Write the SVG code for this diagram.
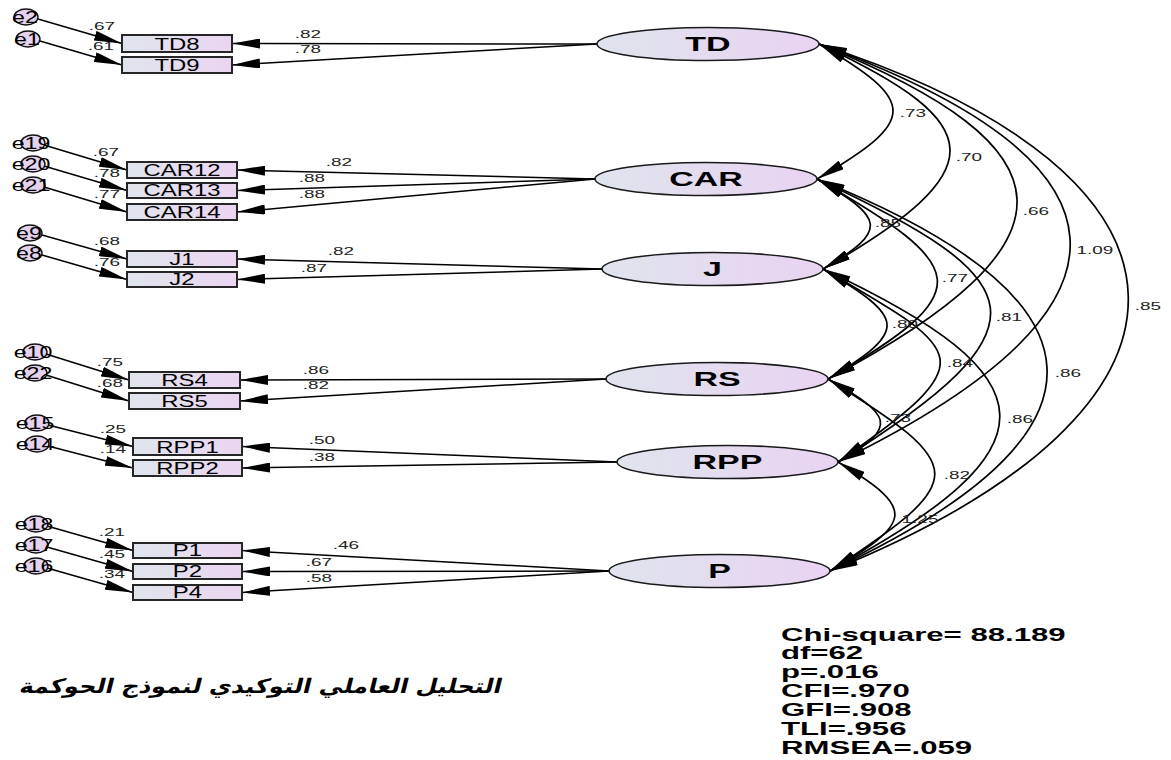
<svg xmlns="http://www.w3.org/2000/svg" width="1171" height="760" viewBox="0 0 1171 760">
  <defs>
    <linearGradient id="gBox" x1="0" y1="0" x2="1" y2="0">
      <stop offset="0" stop-color="#dfe5ec"/>
      <stop offset="1" stop-color="#ebd5f2"/>
    </linearGradient>
    <linearGradient id="gLat" x1="0" y1="0" x2="1" y2="0">
      <stop offset="0" stop-color="#dfe4ed"/>
      <stop offset="1" stop-color="#e9d3f2"/>
    </linearGradient>
    <marker id="ah" viewBox="0 0 28 10" refX="28" refY="5" markerWidth="28" markerHeight="10" markerUnits="userSpaceOnUse" orient="auto-start-reverse">
      <path d="M0,0 L28,5 L0,10 z" fill="#000"/>
    </marker>
  </defs>
  <style>
    text { font-family: "Liberation Sans", Arial, sans-serif; fill: #000; }
    .box { fill: url(#gBox); stroke: #262626; stroke-width: 2; }
    .lat { fill: url(#gLat); stroke: #1a1a1a; stroke-width: 1.6; }
    .err { fill: #e5d2ee; stroke: #111; stroke-width: 1.4; }
    .ln { fill: none; stroke: #000; stroke-width: 1.5; marker-end: url(#ah); }
    .arc { fill: none; stroke: #000; stroke-width: 1.7; marker-start: url(#ah); marker-end: url(#ah); }
    .sx { transform-box: fill-box; transform-origin: center; }
    .num { font-size: 11px; text-anchor: middle; transform: scaleX(1.72); fill: #222; }
    .obs { font-size: 16.5px; text-anchor: middle; transform: scaleX(1.45); }
    .latt { font-size: 20px; font-weight: bold; text-anchor: middle; transform: scaleX(1.7); }
    .et { font-size: 16px; text-anchor: middle; transform: scaleX(1.45); }
    .fit { font-size: 17.5px; font-weight: bold; transform-box: fill-box; transform-origin: 0 50%; transform: scaleX(1.78); }
    .title { font-family: "DejaVu Sans", sans-serif; font-size: 20px; font-weight: bold; text-anchor: middle; transform-box: fill-box; transform-origin: center; transform: skewX(-14deg); }
  </style>

  <rect width="1171" height="760" fill="#fff"/>

  <!-- paths: error terms, factor loadings, covariances -->
  <g id="connectors">
    <!-- error terms into indicators -->
    <line class="ln" x1="38" y1="19" x2="122" y2="43.5"/>
    <line class="ln" x1="40" y1="41" x2="122" y2="65"/>
    <line class="ln" x1="44" y1="145" x2="127" y2="170"/>
    <line class="ln" x1="44" y1="166" x2="127" y2="190.5"/>
    <line class="ln" x1="44" y1="187" x2="127" y2="212"/>
    <line class="ln" x1="42" y1="235" x2="127" y2="259"/>
    <line class="ln" x1="42" y1="255" x2="127" y2="279.5"/>
    <line class="ln" x1="46" y1="354" x2="129" y2="380"/>
    <line class="ln" x1="46" y1="375" x2="129" y2="401"/>
    <line class="ln" x1="48" y1="425" x2="133" y2="446.5"/>
    <line class="ln" x1="48" y1="446" x2="133" y2="468"/>
    <line class="ln" x1="47" y1="526" x2="133" y2="550.5"/>
    <line class="ln" x1="47" y1="547" x2="133" y2="571.5"/>
    <line class="ln" x1="47" y1="568" x2="133" y2="592.5"/>

    <!-- factor loadings -->
    <line class="ln" x1="597" y1="44" x2="232" y2="43.5"/>
    <line class="ln" x1="597" y1="44" x2="232" y2="65"/>
    <line class="ln" x1="595" y1="179" x2="237" y2="170"/>
    <line class="ln" x1="595" y1="179" x2="237" y2="190.5"/>
    <line class="ln" x1="595" y1="179" x2="237" y2="212"/>
    <line class="ln" x1="602" y1="269" x2="237" y2="259"/>
    <line class="ln" x1="602" y1="269" x2="237" y2="279.5"/>
    <line class="ln" x1="606" y1="379" x2="240" y2="380"/>
    <line class="ln" x1="606" y1="379" x2="240" y2="401"/>
    <line class="ln" x1="617" y1="462" x2="242" y2="446.5"/>
    <line class="ln" x1="617" y1="462" x2="242" y2="468"/>
    <line class="ln" x1="609" y1="571" x2="242" y2="550.5"/>
    <line class="ln" x1="609" y1="571" x2="242" y2="571.5"/>
    <line class="ln" x1="609" y1="571" x2="242" y2="592.5"/>

    <!-- covariances between factors -->
    <path class="arc" d="M819,44 C919,102 917,121 817,179"/>
    <path class="arc" d="M819,44 C991,124 995,170 823,269"/>
    <path class="arc" d="M819,44 C1077,148 1086,242 828,379"/>
    <path class="arc" d="M819,44 C1141,161 1160,305 838,462"/>
    <path class="arc" d="M819,44 C1224,176 1235,407 830,571"/>
    <path class="arc" d="M817,179 C884,218 890,230 823,269"/>
    <path class="arc" d="M817,179 C970,267 981,291 828,379"/>
    <path class="arc" d="M817,179 C1034,280 1055,326 838,462"/>
    <path class="arc" d="M817,179 C1115,299 1128,432 830,571"/>
    <path class="arc" d="M823,269 C905,318 910,330 828,379"/>
    <path class="arc" d="M823,269 C969,353 984,360 838,462"/>
    <path class="arc" d="M823,269 C1054,377 1061,448 830,571"/>
    <path class="arc" d="M828,379 C891,415 901,426 838,462"/>
    <path class="arc" d="M828,379 C969,467 971,479 830,571"/>
    <path class="arc" d="M838,462 C919,510 911,523 830,571"/>

    <!-- squared multiple correlations -->
    <text class="num sx" x="102" y="30">.67</text>
    <text class="num sx" x="101" y="50">.61</text>
    <text class="num sx" x="106" y="156">.67</text>
    <text class="num sx" x="107" y="177">.78</text>
    <text class="num sx" x="107" y="198">.77</text>
    <text class="num sx" x="107" y="245">.68</text>
    <text class="num sx" x="107" y="266">.76</text>
    <text class="num sx" x="110" y="366">.75</text>
    <text class="num sx" x="110" y="387">.68</text>
    <text class="num sx" x="113" y="433">.25</text>
    <text class="num sx" x="113" y="453">.14</text>
    <text class="num sx" x="112" y="536">.21</text>
    <text class="num sx" x="112" y="558">.45</text>
    <text class="num sx" x="112" y="578">.34</text>

    <!-- standardized loadings -->
    <text class="num sx" x="308" y="38">.82</text>
    <text class="num sx" x="308" y="53">.78</text>
    <text class="num sx" x="339" y="166">.82</text>
    <text class="num sx" x="312" y="182">.88</text>
    <text class="num sx" x="312" y="198">.88</text>
    <text class="num sx" x="341" y="255">.82</text>
    <text class="num sx" x="314" y="272">.87</text>
    <text class="num sx" x="316" y="374">.86</text>
    <text class="num sx" x="316" y="389">.82</text>
    <text class="num sx" x="322" y="444">.50</text>
    <text class="num sx" x="322" y="461">.38</text>
    <text class="num sx" x="346" y="549">.46</text>
    <text class="num sx" x="319" y="566">.67</text>
    <text class="num sx" x="319" y="582">.58</text>

    <!-- correlations -->
    <text class="num sx" x="913" y="117">.73</text>
    <text class="num sx" x="969" y="161">.70</text>
    <text class="num sx" x="1036" y="215">.66</text>
    <text class="num sx" x="1095" y="254">1.09</text>
    <text class="num sx" x="1148" y="310">.85</text>
    <text class="num sx" x="888" y="227">.85</text>
    <text class="num sx" x="955" y="282">.77</text>
    <text class="num sx" x="1009" y="321">.81</text>
    <text class="num sx" x="1068" y="377">.86</text>
    <text class="num sx" x="905" y="328">.80</text>
    <text class="num sx" x="960" y="367">.84</text>
    <text class="num sx" x="1020" y="423">.86</text>
    <text class="num sx" x="898" y="422">.73</text>
    <text class="num sx" x="957" y="479">.82</text>
    <text class="num sx" x="920" y="523">1.25</text>
  </g>

  <!-- latent factors -->
  <g id="TD"><ellipse class="lat" cx="708" cy="44" rx="111" ry="16.5"/><text class="latt sx" x="708" y="51">TD</text></g>
  <g id="CAR"><ellipse class="lat" cx="706" cy="179" rx="111" ry="16.5"/><text class="latt sx" x="706" y="186">CAR</text></g>
  <g id="J"><ellipse class="lat" cx="712.5" cy="269" rx="110.5" ry="16.5"/><text class="latt sx" x="712.5" y="276">J</text></g>
  <g id="RS"><ellipse class="lat" cx="717" cy="379" rx="111" ry="16.5"/><text class="latt sx" x="717" y="386">RS</text></g>
  <g id="RPP"><ellipse class="lat" cx="727.5" cy="462" rx="110.5" ry="16.5"/><text class="latt sx" x="727.5" y="469">RPP</text></g>
  <g id="P"><ellipse class="lat" cx="719.5" cy="571" rx="110.5" ry="16.5"/><text class="latt sx" x="719.5" y="578">P</text></g>

  <!-- observed indicators -->
  <g id="TD8"><rect class="box" x="122" y="35" width="110" height="17"/><text class="obs sx" x="177" y="50">TD8</text></g>
  <g id="TD9"><rect class="box" x="122" y="57" width="110" height="16"/><text class="obs sx" x="177" y="71">TD9</text></g>
  <g id="CAR12"><rect class="box" x="127" y="162" width="110" height="16"/><text class="obs sx" x="182" y="176">CAR12</text></g>
  <g id="CAR13"><rect class="box" x="127" y="183" width="110" height="15"/><text class="obs sx" x="182" y="196">CAR13</text></g>
  <g id="CAR14"><rect class="box" x="127" y="204" width="110" height="16"/><text class="obs sx" x="182" y="218">CAR14</text></g>
  <g id="J1"><rect class="box" x="127" y="251" width="110" height="16"/><text class="obs sx" x="182" y="265">J1</text></g>
  <g id="J2"><rect class="box" x="127" y="272" width="110" height="15"/><text class="obs sx" x="182" y="285">J2</text></g>
  <g id="RS4"><rect class="box" x="129" y="372" width="111" height="16"/><text class="obs sx" x="184.5" y="386">RS4</text></g>
  <g id="RS5"><rect class="box" x="129" y="393" width="111" height="16"/><text class="obs sx" x="184.5" y="407">RS5</text></g>
  <g id="RPP1"><rect class="box" x="133" y="438" width="109" height="17"/><text class="obs sx" x="187.5" y="453">RPP1</text></g>
  <g id="RPP2"><rect class="box" x="133" y="460" width="109" height="16"/><text class="obs sx" x="187.5" y="474">RPP2</text></g>
  <g id="P1"><rect class="box" x="133" y="543" width="109" height="15"/><text class="obs sx" x="187.5" y="556">P1</text></g>
  <g id="P2"><rect class="box" x="133" y="564" width="109" height="15"/><text class="obs sx" x="187.5" y="577">P2</text></g>
  <g id="P4"><rect class="box" x="133" y="585" width="109" height="15"/><text class="obs sx" x="187.5" y="598">P4</text></g>

  <!-- error terms -->
  <g id="e2"><ellipse class="err" cx="26" cy="17" rx="12" ry="8"/><text class="et sx" x="25" y="23">e2</text></g>
  <g id="e1"><ellipse class="err" cx="28" cy="39" rx="12" ry="8"/><text class="et sx" x="27" y="45">e1</text></g>
  <g id="e19"><ellipse class="err" cx="33" cy="143" rx="12" ry="8"/><text class="et sx" x="31" y="149">e19</text></g>
  <g id="e20"><ellipse class="err" cx="33" cy="164" rx="12" ry="8"/><text class="et sx" x="31" y="170">e20</text></g>
  <g id="e21"><ellipse class="err" cx="33" cy="185" rx="12" ry="8"/><text class="et sx" x="31" y="191">e21</text></g>
  <g id="e9"><ellipse class="err" cx="30" cy="233" rx="12" ry="8"/><text class="et sx" x="29" y="239">e9</text></g>
  <g id="e8"><ellipse class="err" cx="30" cy="253" rx="12" ry="8"/><text class="et sx" x="29" y="259">e8</text></g>
  <g id="e10"><ellipse class="err" cx="35" cy="352" rx="12" ry="8"/><text class="et sx" x="33" y="358">e10</text></g>
  <g id="e22"><ellipse class="err" cx="35" cy="373" rx="12" ry="8"/><text class="et sx" x="33" y="379">e22</text></g>
  <g id="e15"><ellipse class="err" cx="37" cy="423" rx="12" ry="8"/><text class="et sx" x="35" y="429">e15</text></g>
  <g id="e14"><ellipse class="err" cx="37" cy="444" rx="12" ry="8"/><text class="et sx" x="35" y="450">e14</text></g>
  <g id="e18"><ellipse class="err" cx="36" cy="524" rx="12" ry="8"/><text class="et sx" x="34" y="530">e18</text></g>
  <g id="e17"><ellipse class="err" cx="36" cy="545" rx="12" ry="8"/><text class="et sx" x="34" y="551">e17</text></g>
  <g id="e16"><ellipse class="err" cx="36" cy="566" rx="12" ry="8"/><text class="et sx" x="34" y="572">e16</text></g>

  <!-- model title -->
  <text class="title" x="261" y="693" textLength="482" lengthAdjust="spacingAndGlyphs">التحليل العاملي التوكيدي لنموذج الحوكمة</text>

  <!-- fit indices -->
  <g id="fit-indices">
    <text class="fit" x="781" y="641">Chi-square= 88.189</text>
    <text class="fit" x="781" y="659">df=62</text>
    <text class="fit" x="781" y="678">p=.016</text>
    <text class="fit" x="781" y="697">CFI=.970</text>
    <text class="fit" x="781" y="716">GFI=.908</text>
    <text class="fit" x="781" y="735">TLI=.956</text>
    <text class="fit" x="781" y="754">RMSEA=.059</text>
  </g>
</svg>
